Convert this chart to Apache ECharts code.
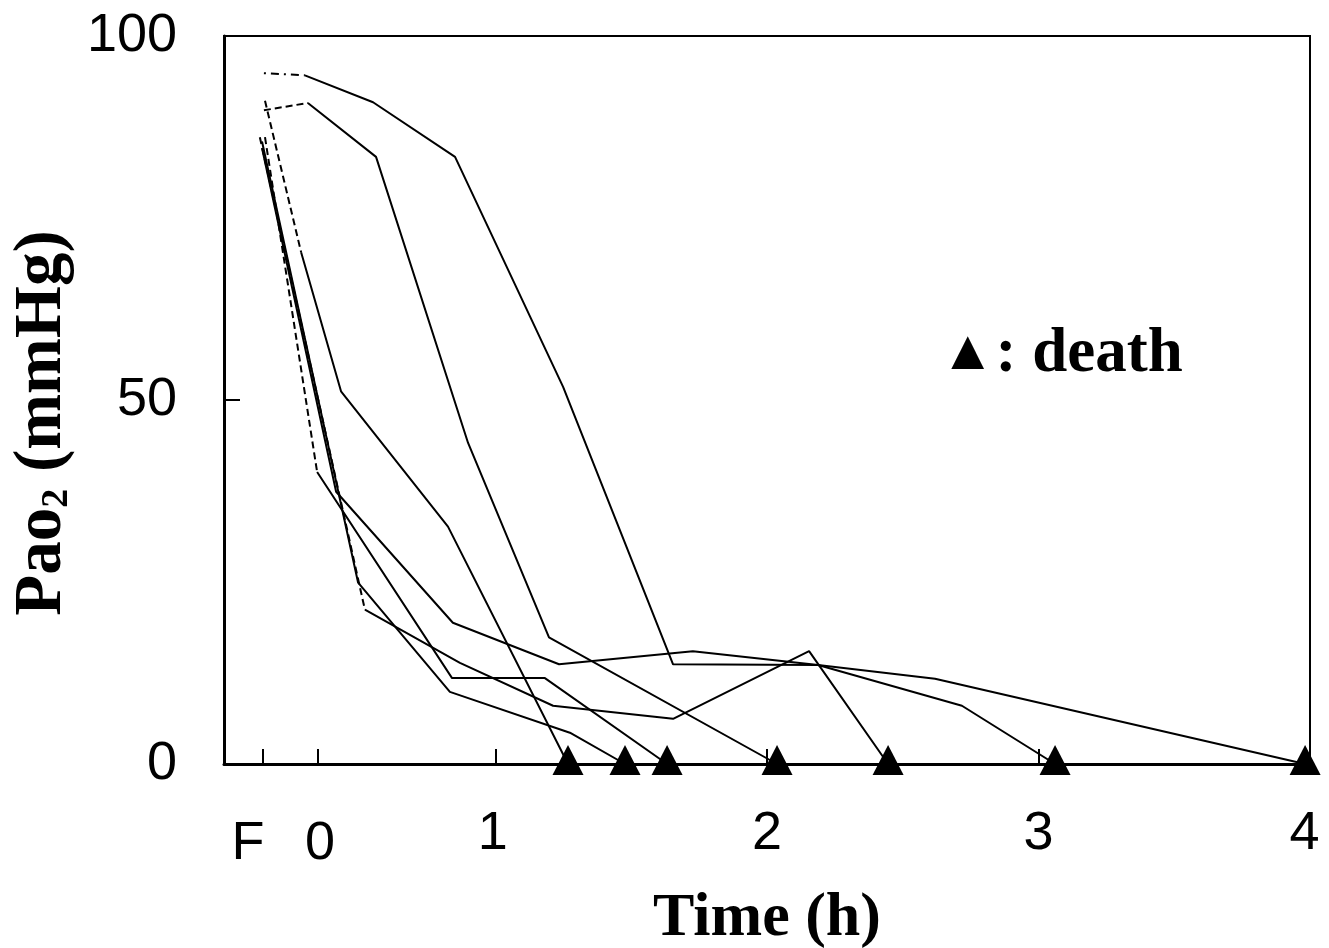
<!DOCTYPE html>
<html><head><meta charset="utf-8">
<script src="https://cdn.jsdelivr.net/npm/echarts@6/dist/echarts.min.js"></script>
<style>html,body{margin:0;padding:0;background:#fff}#c{width:1329px;height:948px}</style>
</head><body><div id="c"></div>
<script>
// Axis: hours; F (pre-value) and 0 are plotted before hour 1 as in the original figure
const xTickLabels = ['F', '0', '1', '2', '3', '4'];
const xTickValues = [0.144, 0.346, 1, 2, 3, 4];
const xLabelValues = [0.088, 0.354, 0.99, 2, 3, 3.98];
const yTickValues = [0, 50, 100];

// Individual animals: time (h) and PaO2 (mmHg); last point = death
const timeA = [0.147, 0.298, 0.549, 0.851, 1.249, 1.654, 2.188, 2.718, 3.061];
const pao2A = [94.9, 94.6, 90.9, 83.4, 51.8, 13.7, 13.6, 8.0, 0];
const timeB = [0.147, 0.309, 0.560, 0.899, 1.197, 2.037];
const pao2B = [89.8, 90.8, 83.4, 44.1, 17.4, 0];
const timeC = [0.151, 0.284, 0.431, 0.825, 1.267];
const pao2C = [91.1, 70.3, 51.2, 32.6, 0];
const timeD = [0.140, 0.413, 0.843, 1.234, 1.727, 2.188, 2.619, 3.982];
const pao2D = [84.6, 37.4, 19.4, 13.7, 15.5, 13.6, 11.7, 0];
const timeE = [0.151, 0.343, 0.840, 1.182, 1.632];
const pao2E = [86.1, 40.1, 11.8, 11.8, 0];
const timeF = [0.140, 0.494, 0.832, 1.274, 1.477];
const pao2F = [85.5, 24.9, 9.9, 4.3, 0];
const timeG = [0.132, 0.519, 0.869, 1.212, 1.654, 2.155, 2.446];
const pao2G = [86.1, 21.2, 13.9, 8.0, 6.2, 15.5, 0];

const animals = [
  {t: timeA, v: pao2A, start: 'dashdot'},
  {t: timeB, v: pao2B, start: 'dashed'},
  {t: timeC, v: pao2C, start: 'dashed'},
  {t: timeD, v: pao2D, start: 'solid'},
  {t: timeE, v: pao2E, start: 'dashed'},
  {t: timeF, v: pao2F, start: 'solid'},
  {t: timeG, v: pao2G, start: 'dashed'}
];

const pts = (t, v) => t.map((x, i) => [x, v[i]]);
const series = [];
animals.forEach(a => {
  const all = pts(a.t, a.v);
  const base = {type: 'line', symbol: 'none', silent: true, animation: false, z: 3};
  if (a.start === 'solid') {
    series.push(Object.assign({}, base, {data: all, lineStyle: {color: '#000', width: 2}}));
  } else {
    const dash = a.start === 'dashdot' ? [2, 5, 8, 5] : [7, 4];
    series.push(Object.assign({}, base, {data: all.slice(0, 2), lineStyle: {color: '#000', width: 2, type: dash}}));
    series.push(Object.assign({}, base, {data: all.slice(1), lineStyle: {color: '#000', width: 2}}));
  }
});
series.push({
  type: 'scatter', symbol: 'triangle', symbolSize: [31, 30], symbolOffset: [0, -4],
  itemStyle: {color: '#000', opacity: 1}, clip: false, animation: false, z: 5,
  data: animals.map(a => [a.t[a.t.length - 1], a.v[a.v.length - 1]])
});

const chart = echarts.init(document.getElementById('c'), null, {renderer: 'canvas'});
const serif = 'Liberation Serif, Times New Roman, serif';
const sans = 'Liberation Sans, Arial, sans-serif';
chart.setOption({
  backgroundColor: '#fff',
  animation: false,
  grid: {left: 224, top: 36, width: 1086, height: 728, show: true, borderColor: '#000', borderWidth: 2,
         backgroundColor: 'transparent', containLabel: false, outerBoundsMode: 'none'},
  xAxis: {
    type: 'value', min: 0, max: 4,
    axisLine: {lineStyle: {color: '#000', width: 3}},
    axisTick: {show: true, inside: true, length: 15, lineStyle: {color: '#000', width: 2}, customValues: xTickValues},
    axisLabel: {
      customValues: xLabelValues, color: '#000', fontFamily: sans, fontSize: 54, margin: 43,
      formatter: function (val) {
        let idx = 0, best = Infinity;
        xLabelValues.forEach((p, i) => { const d = Math.abs(p - val); if (d < best) { best = d; idx = i; } });
        return (idx < 2 ? '{low|' : '{n|') + xTickLabels[idx] + '}';
      },
      rich: {
        low: {fontFamily: sans, fontSize: 54, lineHeight: 74, color: '#000'},
        n: {fontFamily: sans, fontSize: 54, lineHeight: 54, color: '#000'}
      }
    },
    splitLine: {show: false},
    name: 'Time (h)', nameLocation: 'middle', nameGap: 124,
    nameTextStyle: {fontFamily: serif, fontWeight: 'bold', fontSize: 62, color: '#000', lineHeight: 62}
  },
  yAxis: {
    type: 'value', min: 0, max: 100, interval: 50,
    axisLine: {show: true, lineStyle: {color: '#000', width: 3}},
    axisTick: {show: true, inside: true, length: 16, lineStyle: {color: '#000', width: 2}},
    axisLabel: {color: '#000', fontFamily: sans, fontSize: 54, margin: 47},
    splitLine: {show: false},
    name: 'Pao{s|2} (mmHg)', nameLocation: 'middle', nameGap: 147, nameRotate: 90,
    nameTextStyle: {
      fontFamily: serif, fontWeight: 'bold', fontSize: 67, color: '#000', lineHeight: 67,
      padding: [0, 46, 0, 0],
      rich: {s: {fontFamily: serif, fontWeight: 'bold', fontSize: 38, lineHeight: 14, verticalAlign: 'bottom', color: '#000'}}
    }
  },
  graphic: [{
    type: 'text', x: 940, y: 355, silent: true,
    style: {
      text: '{t|▲}{w|: death}', verticalAlign: 'middle', fill: '#000',
      rich: {
        t: {fontFamily: serif, fontSize: 56, fontWeight: 'bold', fill: '#000', lineHeight: 64},
        w: {fontFamily: serif, fontSize: 63, fontWeight: 'bold', fill: '#000', lineHeight: 64}
      }
    }
  }],
  series: series
});
</script></body></html>
